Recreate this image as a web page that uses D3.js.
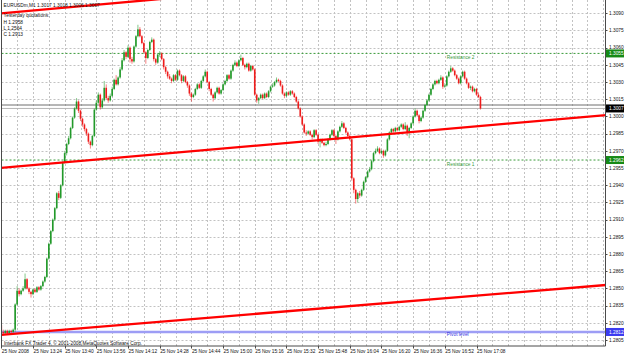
<!DOCTYPE html>
<html>
<head>
<meta charset="utf-8">
<script src="https://cdn.jsdelivr.net/npm/d3@7"></script>
<style>
  html, body { margin: 0; padding: 0; background: #fff; }
  svg { display: block; font-family: "Liberation Sans", Arial, sans-serif; }
</style>
</head>
<body>
<svg id="chart"></svg>
<script>
// Chart size
const width = 625;
const height = 356;

// EURUSD M1 bars, in pips above 1.2800 (price = 1.28 + pips / 10000)
const opens = [
  18,12,11,13,11,13,12,14,36,48, 45,48,50,58,50,47,45,49,47,51,
  49,52,56,60,76,89,100,110,120,133, 129,140,160,168,176,181,190,199,207,213,
  205,198,193,189,185,178,175,183,206,212, 219,208,214,225,216,214,218,224,232,228,
  234,241,249,256,252,260,250,248,261,270, 276,270,264,256,251,258,265,267,250,247,
  254,255,250,243,239,235,233,231,236,232, 240,236,231,235,230,227,220,217,219,224,
  228,225,231,235,239,230,224,219,216,221, 225,220,223,228,231,236,233,240,245,247,
  244,249,251,245,243,246,240,244,241,219, 214,216,219,216,220,217,222,226,227,230,
  232,231,227,220,218,221,219,222,220,217, 213,207,200,193,186,185,187,184,182,188,
  184,178,180,177,175,176,180,184,188,183, 180,187,191,194,190,186,183,180,146,136,
  128,133,131,136,143,147,152,154,161,168, 170,172,168,170,166,170,180,186,189,187,
  190,188,191,193,189,192,186,190,194,200, 205,201,196,199,205,210,214,219,224,228,
  231,229,232,234,226,227,235,239,242,240, 236,233,229,235,239,233,229,225,226,222,
  224,219,217
];
const highs = [
  19,14,14,14,14,14,15,37,52,50, 49,52,63,59,51,48,50,50,52,52,
  53,57,61,77,90,101,111,121,134,135, 141,161,170,177,183,191,200,208,216,214,
  206,199,194,190,186,179,184,207,214,221, 220,216,231,228,218,220,226,233,236,235,
  243,251,258,257,262,261,252,262,271,280, 278,271,265,257,259,266,269,268,251,255,
  257,256,251,244,240,237,234,237,237,241, 241,237,236,236,231,228,221,220,225,229,
  229,232,236,241,240,231,225,220,222,226, 226,224,229,232,237,237,241,246,249,248,
  250,254,252,246,247,247,245,245,242,220, 217,220,220,221,221,223,227,229,231,234,
  233,232,228,221,222,222,223,223,221,218, 214,208,201,194,188,188,188,185,189,189,
  185,181,181,178,178,181,185,189,189,184, 188,192,196,195,191,187,184,181,147,137,
  134,135,137,144,148,153,156,162,169,172, 174,173,171,171,171,181,187,190,190,191,
  191,192,194,194,195,193,191,195,201,207, 206,202,200,206,211,215,220,225,229,232,
  232,233,236,235,229,236,240,244,243,241, 237,234,236,240,240,234,230,227,227,225,
  225,221,218
];
const lows = [
  10,9,10,10,10,11,11,12,35,43, 44,47,49,49,45,42,44,46,46,48,
  48,51,55,59,75,88,99,109,119,127, 128,139,159,166,175,180,189,198,206,203,
  196,191,187,183,176,172,174,182,205,211, 206,207,213,215,212,213,217,223,227,227,
  233,240,248,250,251,247,246,247,260,269, 269,263,255,246,250,257,264,248,245,246,
  252,249,241,237,233,232,229,230,231,231, 235,229,230,229,225,218,213,216,218,223,
  224,224,230,234,229,222,218,213,215,220, 219,219,222,227,230,232,232,239,244,243,
  243,248,244,241,242,239,239,240,218,212, 211,215,215,215,216,216,221,225,226,229,
  230,226,219,216,217,218,218,219,216,212, 206,199,192,185,183,184,183,180,181,183,
  176,173,176,174,174,175,179,183,182,176, 179,186,190,189,185,182,179,144,133,124,
  125,129,130,135,142,146,151,153,160,167, 169,167,167,164,165,169,179,185,186,186,
  187,187,190,188,188,183,181,189,193,199, 200,194,195,198,204,209,213,218,223,227,
  228,228,231,224,225,226,234,238,239,235, 232,228,228,234,232,228,224,223,221,221,
  218,216,206
];
const closes = [
  12,11,13,11,13,12,14,36,48,45, 48,50,58,50,47,45,49,47,51,49,
  52,56,60,76,89,100,110,120,133,129, 140,160,168,176,181,190,199,207,213,205,
  198,193,189,185,178,175,183,206,212,219, 208,214,225,216,214,218,224,232,228,234,
  241,249,256,252,260,250,248,261,270,276, 270,264,256,251,258,265,267,250,247,254,
  255,250,243,239,235,233,231,236,232,240, 236,231,235,230,227,220,217,219,224,228,
  225,231,235,239,230,224,219,216,221,225, 220,223,228,231,236,233,240,245,247,244,
  249,251,245,243,246,240,244,241,219,214, 216,219,216,220,217,222,226,227,230,232,
  231,227,220,218,221,219,222,220,217,213, 207,200,193,186,185,187,184,182,188,184,
  178,180,177,175,176,180,184,188,183,180, 187,191,194,190,186,183,180,146,136,128,
  133,131,136,143,147,152,154,161,168,170, 172,168,170,166,170,180,186,189,187,190,
  188,191,193,189,192,186,190,194,200,205, 201,196,199,205,210,214,219,224,228,231,
  229,232,234,226,227,235,239,242,240,236, 233,229,235,239,233,229,225,226,222,224,
  219,217,207
];

// Time axis: first bar 13:08, one bar per minute
const startTime = '13:08';
const tickTimes = ['13:08','13:24','13:40','13:56','14:12','14:28','14:44','15:00',
  '15:16','15:32','15:48','16:04','16:20','16:36','16:52','17:08'];
const tickLabels = ['25 Nov 2008','25 Nov 13:24','25 Nov 13:40','25 Nov 13:56','25 Nov 14:12',
  '25 Nov 14:28','25 Nov 14:44','25 Nov 15:00','25 Nov 15:16','25 Nov 15:32','25 Nov 15:48',
  '25 Nov 16:04','25 Nov 16:20','25 Nov 16:36','25 Nov 16:52','25 Nov 17:08'];

// Price axis labels
const priceTicks = [1.2805,1.2820,1.2835,1.2850,1.2865,1.2880,1.2895,1.2910,1.2925,1.2940,
  1.2955,1.2970,1.2985,1.3000,1.3015,1.3030,1.3045,1.3060,1.3075,1.3090];

// Pivot levels from yesterday's H/L/C
const yesterdayHLC = [1.2958, 1.2564, 1.2913];
const levelNames = ['Resistance 2', 'Resistance 1', 'Pivot level'];
const levelPrices = [1.3055, 1.2962, 1.2812];
const levelLabelTime = '16:53';

// Bid / ask lines
const bidPrice = 1.3007;
const askPrice = 1.3010;

// Trend lines: [minutes from start, price]
const trendLines = [
  [[0, 1.30900], [100, 1.31055]],
  [[0, 1.29551], [300, 1.30004]],
  [[0, 1.28095], [300, 1.28522]]
];

const toMin = t => { const [h, m] = t.split(':').map(Number); return h * 60 + m; };
const barIndex = t => toMin(t) - toMin(startTime);
const price = p => 1.28 + p / 10000;

const bars = closes.map((c, i) => ({
  i, o: price(opens[i]), h: price(highs[i]), l: price(lows[i]), c: price(c)
}));

// Plot frame
const plotLeft = 1.5, plotRight = 605.5, plotTop = 0, plotBottom = 346;

const x = d3.scaleLinear().domain([0, 305]).range([1.3, 605.2]);
const y = d3.scaleLinear().domain([1.2805, 1.3090]).range([340.0, 13.3]);

const svg = d3.select('#chart')
  .attr('width', width)
  .attr('height', height);

svg.append('rect').attr('width', width).attr('height', height).attr('fill', '#fff');

svg.append('clipPath').attr('id', 'plot')
  .append('rect')
    .attr('x', plotLeft).attr('y', plotTop)
    .attr('width', plotRight - plotLeft).attr('height', plotBottom - plotTop);

const plot = svg.append('g').attr('clip-path', 'url(#plot)');

// Grid
const vGrid = d3.range(0, 306, 8);
plot.selectAll('.vgrid')
  .data(vGrid)
  .enter().append('line')
    .attr('x1', d => Math.round(x(d)) + 0.5)
    .attr('x2', d => Math.round(x(d)) + 0.5)
    .attr('y1', plotTop).attr('y2', plotBottom)
    .attr('stroke', '#c2c2c2')
    .attr('stroke-dasharray', '2,2');

plot.selectAll('.hgrid')
  .data(priceTicks)
  .enter().append('line')
    .attr('x1', plotLeft).attr('x2', plotRight)
    .attr('y1', d => Math.round(y(d)) + 0.5)
    .attr('y2', d => Math.round(y(d)) + 0.5)
    .attr('stroke', '#c2c2c2')
    .attr('stroke-dasharray', '2,2');

// Pivot / resistance levels
const levelColor = ['#3a9a3a', '#3a9a3a', '#9d9df5'];
plot.selectAll('.level')
  .data(levelPrices)
  .enter().append('line')
    .attr('x1', plotLeft).attr('x2', plotRight)
    .attr('y1', d => y(d)).attr('y2', d => y(d))
    .attr('stroke', (d, i) => levelColor[i])
    .attr('stroke-width', (d, i) => i === 2 ? 2.7 : 1)
    .attr('stroke-dasharray', (d, i) => i === 2 ? null : '2,2');

// Ask and bid lines
plot.append('line')
  .attr('x1', plotLeft).attr('x2', plotRight)
  .attr('y1', y(askPrice)).attr('y2', y(askPrice))
  .attr('stroke', '#6e6e6e');
plot.append('line')
  .attr('x1', plotLeft).attr('x2', plotRight)
  .attr('y1', y(bidPrice)).attr('y2', y(bidPrice))
  .attr('stroke', '#b4b4b4');

// Candles
const upColor = '#22992a';
const downColor = '#ee1c1c';
const candle = plot.selectAll('.bar')
  .data(bars)
  .enter().append('g');

candle.append('line')
  .attr('x1', d => x(d.i)).attr('x2', d => x(d.i))
  .attr('y1', d => y(d.h)).attr('y2', d => y(d.l))
  .attr('stroke', d => d.c >= d.o ? upColor : downColor)
  .attr('stroke-opacity', 0.55)
  .attr('stroke-width', 1);

candle.append('rect')
  .attr('x', d => x(d.i) - 0.8)
  .attr('width', 1.6)
  .attr('y', d => y(Math.max(d.o, d.c)))
  .attr('height', d => Math.max(1, Math.abs(y(d.o) - y(d.c))))
  .attr('fill', d => d.c >= d.o ? upColor : downColor);

// Trend lines, extended past both ends
const extend = (d, t) => d[0][1] + (d[1][1] - d[0][1]) / (d[1][0] - d[0][0]) * (t - d[0][0]);
plot.selectAll('.trend')
  .data(trendLines)
  .enter().append('line')
    .attr('x1', x(-50)).attr('y1', d => y(extend(d, -50)))
    .attr('x2', x(360)).attr('y2', d => y(extend(d, 360)))
    .attr('stroke', '#ff0000')
    .attr('stroke-width', 2.3);

// Level labels
const textColor = ['#3a9a3a', '#3a9a3a', '#3333dd'];
plot.selectAll('.level-label')
  .data(levelPrices)
  .enter().append('text')
    .attr('x', x(barIndex(levelLabelTime)))
    .attr('y', (d, i) => y(d) + (i === 2 ? 3.6 : 5.8))
    .attr('font-size', 4.8)
    .attr('fill', (d, i) => textColor[i])
    .text((d, i) => levelNames[i]);

// Frame
svg.append('path')
  .attr('d', `M${plotLeft},${plotTop}V${plotBottom}H${plotRight}V${plotTop}`)
  .attr('fill', 'none')
  .attr('stroke', '#4a4a4a');

// Price axis
const fmt = d3.format('.4f');
svg.selectAll('.ptick')
  .data(priceTicks)
  .enter().append('line')
    .attr('x1', plotRight).attr('x2', plotRight + 2)
    .attr('y1', d => Math.round(y(d)) + 0.5)
    .attr('y2', d => Math.round(y(d)) + 0.5)
    .attr('stroke', '#4a4a4a');

svg.selectAll('.plabel')
  .data(priceTicks)
  .enter().append('text')
    .attr('x', 609)
    .attr('y', d => y(d) + 1.7)
    .attr('font-size', 4.8)
    .attr('fill', '#111')
    .text(d => fmt(d));

// Price boxes on the axis
const boxPrices = [levelPrices[0], bidPrice, levelPrices[1], levelPrices[2]];
const boxColors = ['#168a16', '#000000', '#168a16', '#3b3bf0'];
const box = svg.selectAll('.pbox')
  .data(boxPrices)
  .enter().append('g');
box.append('rect')
  .attr('x', 606).attr('width', 18)
  .attr('y', d => y(d) - 4).attr('height', 8)
  .attr('fill', (d, i) => boxColors[i]);
box.append('text')
  .attr('x', 609)
  .attr('y', d => y(d) + 1.7)
  .attr('font-size', 4.8)
  .attr('fill', '#fff')
  .text(d => fmt(d));

// Time axis
svg.selectAll('.tlabel')
  .data(tickTimes)
  .enter().append('text')
    .attr('x', d => x(barIndex(d)) + 0.5)
    .attr('y', 353.3)
    .attr('font-size', 4.8)
    .attr('fill', '#111')
    .text((d, i) => tickLabels[i]);

svg.selectAll('.ttick')
  .data(tickTimes)
  .enter().append('line')
    .attr('x1', d => Math.round(x(barIndex(d))) + 0.5)
    .attr('x2', d => Math.round(x(barIndex(d))) + 0.5)
    .attr('y1', plotBottom).attr('y2', plotBottom + 2.5)
    .attr('stroke', '#4a4a4a');

// Header and info texts
const last = bars[bars.length - 1];
const info = [
  `EURUSDm,M1  ${fmt(last.o)} ${fmt(last.h)} ${fmt(last.l)} ${fmt(last.c)}`,
  'Yesterday quotations:',
  `H ${fmt(yesterdayHLC[0])}`,
  `L ${fmt(yesterdayHLC[1])}`,
  `C ${fmt(yesterdayHLC[2])}`
];
const infoY = [7.2, 16.8, 23.8, 30, 36];
svg.selectAll('.info')
  .data(info)
  .enter().append('text')
    .attr('x', 3.5)
    .attr('y', (d, i) => infoY[i])
    .attr('font-size', 4.8)
    .attr('fill', '#111')
    .text(d => d);

svg.append('text')
  .attr('x', 4)
  .attr('y', 345.3)
  .attr('font-size', 4.8)
  .attr('fill', '#111')
  .text('Interbank FX Trader 4, \u00a9 2001-2008 MetaQuotes Software Corp.');
</script>
</body>
</html>
